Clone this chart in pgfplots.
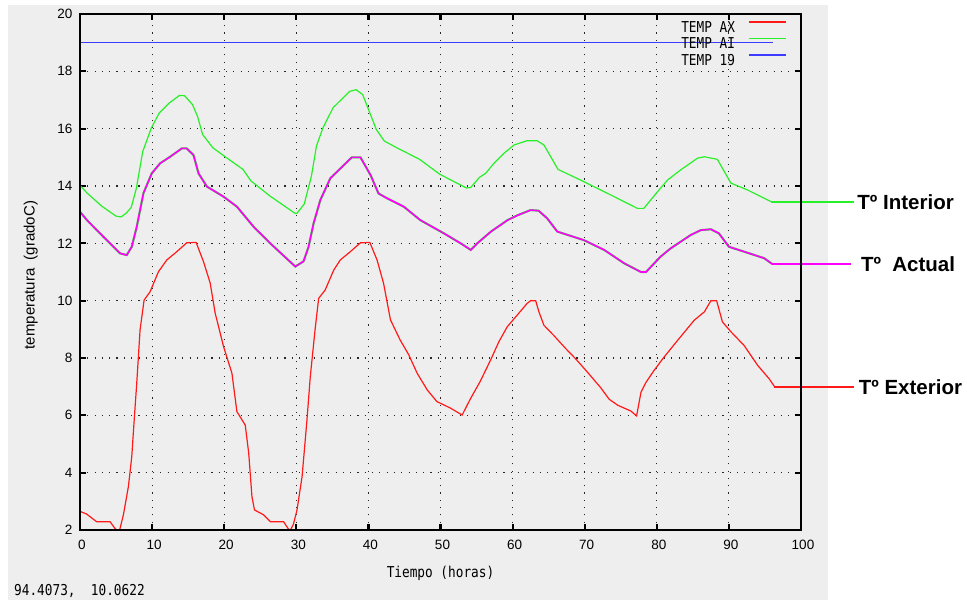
\documentclass[border=0pt]{standalone}
\usepackage{fontspec}
\setmainfont{Liberation Sans}
\newfontfamily\gpfont[FakeStretch=0.85]{DejaVu Sans Mono}
\usepackage{pgfplots}
\pgfplotsset{compat=1.18}
\definecolor{bggray}{RGB}{238,238,238}
\definecolor{gpred}{RGB}{255,25,25}
\definecolor{gpgreen}{RGB}{40,240,40}
\definecolor{gpblue}{RGB}{60,60,255}
\definecolor{gpmag}{RGB}{255,0,255}
\begin{document}
\begin{tikzpicture}[x=1pt,y=1pt]
\useasboundingbox (0,0) rectangle (967,600);
\fill[white] (0,0) rectangle (967,600);
\fill[bggray] (8,0) rectangle (828,595);
\begin{axis}[
  at={(80pt,70pt)}, anchor=south west,
  scale only axis, width=721pt, height=516pt,
  xmin=0, xmax=100, ymin=2, ymax=20,
  xtick={0,10,...,100}, ytick={2,4,...,20},
  clip=false,
  axis line style={line width=2.4pt, black},
  tick align=inside, major tick length=6pt,
  xtick style={black, line width=2.2pt},
  ytick style={black, line width=2.2pt},
  grid=major,
  grid style={black!85, line width=1.1pt, dash pattern=on 1.1pt off 6.2pt},
  /pgf/number format/assume math mode=true,
  tick label style={font=\fontsize{13.5}{14}\selectfont},
  xticklabel style={yshift=-7pt, xshift=2pt},
  yticklabel style={xshift=-4pt},
  xlabel={Tiempo (horas)},
  xlabel style={font=\fontsize{15}{16}\gpfont, at={(axis description cs:0.5,-0.0833)}, anchor=center},
  ylabel={temperatura\ \ (gradoC)},
  ylabel style={font=\fontsize{15}{16}\selectfont, at={(axis description cs:-0.0684,0.494)}, anchor=center},
  legend style={at={(1,1)}, anchor=north east, xshift=-14pt, yshift=-7pt,
    draw=none, fill=none, inner sep=0pt, row sep=5.3pt,
    font=\fontsize{15}{16}\gpfont,
    nodes={inner sep=0pt, text height=11pt, text depth=0pt}},
  legend plot pos=right,
  legend cell align=left,
  legend image code/.code={\path[draw=none] (0pt,5pt) -- (51pt,5pt); \draw[#1, line width=1.5pt] (14pt,5pt) -- (51pt,5pt);},
]
% TEMP AX (exterior)
\addplot[gpred, line width=1.2pt] coordinates {
(0,2.65)(0.9,2.56)(2.3,2.29)(4.17,2.29)(4.86,2.05)(5.1,2.0)(5.5,2.0)(6.02,2.53)(6.71,3.51)(7.18,4.56)(7.5,5.78)(7.87,7.12)(8.33,8.98)(8.89,10.02)(9.72,10.31)(10.88,11.01)(12.04,11.42)(13.43,11.71)(14.81,12.02)(16.11,12.03)(17.13,11.36)(18.06,10.61)(18.75,9.56)(19.91,8.4)(21.07,7.47)(21.76,6.13)(22.92,5.66)(23.4,4.68)(23.85,3.16)(24.2,2.7)(25.46,2.53)(26.4,2.29)(28.24,2.29)(28.94,2.02)(29.2,2.0)(29.6,2.2)(30.1,2.7)(30.8,3.86)(31.48,5.84)(31.94,7.35)(32.6,8.98)(33.1,10.08)(34.0,10.37)(35.2,11.07)(36.1,11.42)(37.5,11.71)(38.9,12.02)(40.2,12.03)(41.2,11.42)(42.1,10.61)(43.06,9.33)(44.4,8.63)(45.6,8.11)(46.76,7.47)(48.15,6.89)(49.5,6.48)(51.4,6.25)(53.0,6.01)(54.2,6.6)(55.5,7.18)(56.95,7.93)(58.1,8.57)(59.26,9.09)(60.65,9.5)(62.0,9.9)(62.5,10.0)(63.2,10.0)(63.65,9.61)(64.35,9.14)(65.7,8.79)(67.4,8.32)(68.75,7.97)(70.4,7.5)(72.2,6.97)(73.4,6.56)(74.6,6.35)(76.4,6.15)(77.2,5.98)(77.8,6.8)(78.5,7.15)(79.6,7.56)(81.0,8.03)(82.9,8.62)(85.2,9.32)(86.6,9.61)(87.5,10.0)(88.3,10.0)(89.1,9.26)(90.3,8.91)(92.1,8.44)(94.0,7.74)(95.6,7.27)(96.3,7.01)
};
\addlegendentry{TEMP AX}
% TEMP AI (interior)
\addplot[gpgreen, line width=1.2pt] coordinates {
(0,14.02)(1,13.75)(3,13.3)(5,12.95)(5.7,12.92)(6.4,13.05)(7.1,13.25)(7.8,13.9)(8.7,15.2)(9.9,16.03)(11.0,16.55)(12.4,16.9)(13.8,17.16)(14.5,17.15)(15.6,16.84)(16.3,16.43)(17.0,15.8)(18.4,15.34)(20.3,14.99)(22.6,14.58)(23.7,14.18)(26.3,13.66)(29.8,13.05)(30.1,13.05)(31.1,13.37)(32.1,14.35)(32.8,15.4)(33.7,16.03)(35.1,16.73)(37.4,17.3)(38.3,17.36)(39.2,17.19)(40.2,16.55)(41.1,15.97)(42.2,15.57)(43.9,15.34)(47.1,14.93)(49.9,14.41)(52.6,14.06)(53.6,13.93)(54.2,13.95)(55.4,14.3)(56.3,14.45)(57.4,14.79)(58.8,15.14)(60.2,15.43)(62.0,15.58)(63.4,15.58)(64.35,15.43)(66.3,14.58)(69.4,14.21)(73.6,13.69)(77.3,13.22)(78.2,13.22)(80.1,13.8)(81.5,14.21)(83.3,14.56)(85.65,14.97)(86.6,15.02)(88.4,14.93)(90.28,14.1)(92.6,13.86)(95.8,13.46)
};
\addlegendentry{TEMP AI}
% TEMP 19
\addplot[gpblue, line width=1.6pt] coordinates {(0,19)(96.1,19)};
\addlegendentry{TEMP 19}
% Actual (magenta, with green beneath)
\addplot[gpgreen, line width=2.1pt, forget plot] coordinates {
(0,13.1)(1,12.8)(3.24,12.23)(5.56,11.65)(6.48,11.59)(7.18,11.88)(7.87,12.58)(8.8,13.75)(9.95,14.44)(11.11,14.79)(12.5,15.02)(14.12,15.31)(14.8,15.31)(15.74,15.08)(16.44,14.44)(17.6,13.98)(19.9,13.63)(21.76,13.28)(24.07,12.58)(26.39,12.0)(29.86,11.19)(31.0,11.37)(31.7,11.88)(32.4,12.7)(33.33,13.51)(34.72,14.27)(36.11,14.61)(37.7,15.0)(38.9,15.0)(40.3,14.38)(41.4,13.74)(42.6,13.57)(44.9,13.28)(47.2,12.81)(50.46,12.35)(52.8,12.0)(54.2,11.77)(55.1,12.0)(57.0,12.41)(59.3,12.81)(60.7,12.98)(62.5,13.16)(63.6,13.14)(64.8,12.87)(66.2,12.41)(69.9,12.11)(72.7,11.77)(75.5,11.3)(77.8,11.0)(78.5,11.0)(80.5,11.53)(81.9,11.82)(84.7,12.29)(86.1,12.46)(87.5,12.49)(88.6,12.35)(90.0,11.88)(92.1,11.71)(94.9,11.48)(96.0,11.28)
};
\addplot[gpmag, line width=1.6pt, forget plot] coordinates {
(0,13.1)(1,12.8)(3.24,12.23)(5.56,11.65)(6.48,11.59)(7.18,11.88)(7.87,12.58)(8.8,13.75)(9.95,14.44)(11.11,14.79)(12.5,15.02)(14.12,15.31)(14.8,15.31)(15.74,15.08)(16.44,14.44)(17.6,13.98)(19.9,13.63)(21.76,13.28)(24.07,12.58)(26.39,12.0)(29.86,11.19)(31.0,11.37)(31.7,11.88)(32.4,12.7)(33.33,13.51)(34.72,14.27)(36.11,14.61)(37.7,15.0)(38.9,15.0)(40.3,14.38)(41.4,13.74)(42.6,13.57)(44.9,13.28)(47.2,12.81)(50.46,12.35)(52.8,12.0)(54.2,11.77)(55.1,12.0)(57.0,12.41)(59.3,12.81)(60.7,12.98)(62.5,13.16)(63.6,13.14)(64.8,12.87)(66.2,12.41)(69.9,12.11)(72.7,11.77)(75.5,11.3)(77.8,11.0)(78.5,11.0)(80.5,11.53)(81.9,11.82)(84.7,12.29)(86.1,12.46)(87.5,12.49)(88.6,12.35)(90.0,11.88)(92.1,11.71)(94.9,11.48)(96.0,11.28)
};
% annotation leaders
\addplot[gpgreen, line width=2.6pt, forget plot] coordinates {(95.8,13.44)(107.35,13.44)};
\addplot[gpmag, line width=2.6pt, forget plot] coordinates {(96.0,11.28)(107.0,11.28)};
\addplot[gpred, line width=2.6pt, forget plot] coordinates {(96.3,6.99)(107.35,6.99)};
% frame redrawn on top
\draw[black, line width=2.2pt] (rel axis cs:0,0) rectangle (rel axis cs:1,1);
\node[anchor=west, font=\fontsize{20.5}{22}\selectfont\bfseries, inner sep=0pt] at (axis cs:107.8,13.44) {Tº Interior};
\node[anchor=west, font=\fontsize{20.5}{22}\selectfont\bfseries, inner sep=0pt] at (axis cs:108.3,11.28) {Tº\ \ Actual};
\node[anchor=west, font=\fontsize{20.5}{22}\selectfont\bfseries, inner sep=0pt] at (axis cs:108.0,6.99) {Tº Exterior};
\end{axis}
\node[anchor=base west, font=\fontsize{15}{16}\gpfont, inner sep=0pt] at (14,4) {94.4073,\ \ 10.0622};
\end{tikzpicture}
\end{document}
